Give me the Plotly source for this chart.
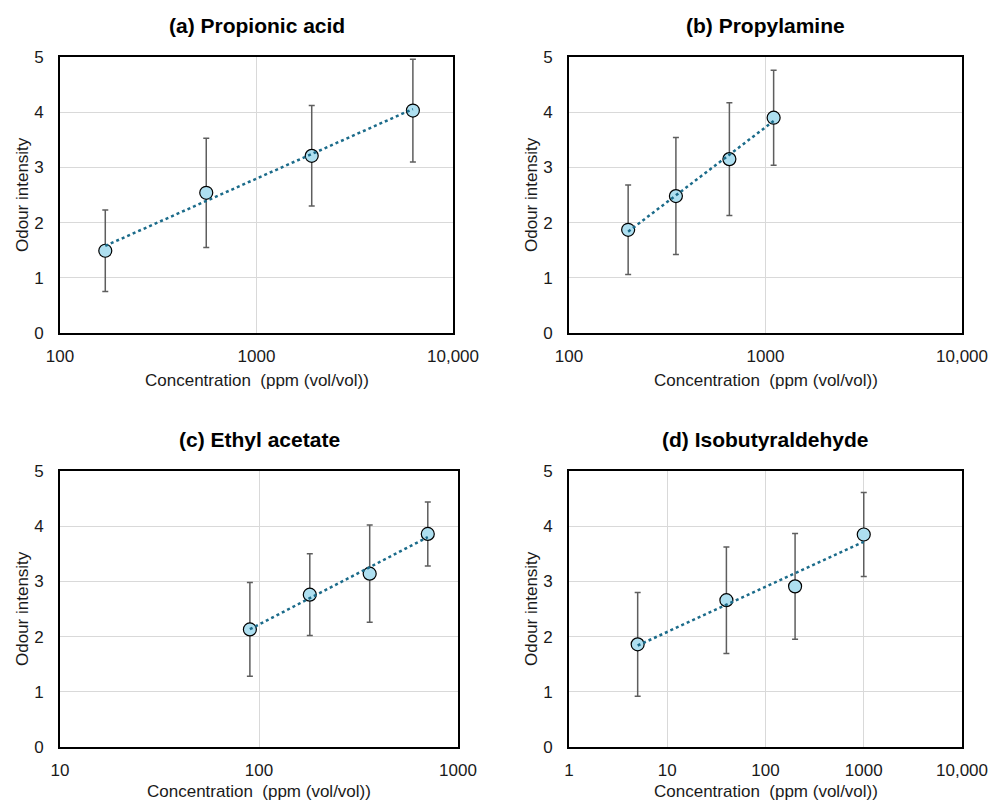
import numpy as np
import plotly.graph_objects as go

# ---- data ----
titles = ["(a) Propionic acid", "(b) Propylamine", "(c) Ethyl acetate", "(d) Isobutyraldehyde"]

conc_a = [170, 555, 1910, 6250]
int_a = [1.49, 2.54, 3.21, 4.03]
err_a = [0.74, 0.99, 0.91, 0.93]

conc_b = [200, 350, 655, 1100]
int_b = [1.87, 2.48, 3.15, 3.90]
err_b = [0.81, 1.06, 1.02, 0.86]

conc_c = [90, 180, 360, 705]
int_c = [2.13, 2.76, 3.14, 3.86]
err_c = [0.85, 0.74, 0.88, 0.58]

conc_d = [5, 40, 200, 1000]
int_d = [1.86, 2.66, 2.91, 3.85]
err_d = [0.94, 0.965, 0.96, 0.76]

xtick_vals_a = [100, 1000, 10000]
xtick_text_a = ["100", "1000", "10,000"]
xtick_vals_b = [100, 1000, 10000]
xtick_text_b = ["100", "1000", "10,000"]
xtick_vals_c = [10, 100, 1000]
xtick_text_c = ["10", "100", "1000"]
xtick_vals_d = [1, 10, 100, 1000, 10000]
xtick_text_d = ["1", "10", "100", "1000", "10,000"]

ytick_vals = [0, 1, 2, 3, 4, 5]

x_label = "Concentration  (ppm (vol/vol))"
y_label = "Odour intensity"

# ---- layout geometry ----
W, H = 988, 802
FONT = "Liberation Sans, Arial, sans-serif"
MARKER_FILL = "#AEDFF0"
TREND = "#1B6B8A"
ERR = "#5E5E5E"
GRID = "#D9D9D9"
TXT = "#1a1a1a"

panels = [
    dict(x=conc_a, y=int_a, e=err_a, tv=xtick_vals_a, tt=xtick_text_a, px=(60, 453), py=(57, 333)),
    dict(x=conc_b, y=int_b, e=err_b, tv=xtick_vals_b, tt=xtick_text_b, px=(569, 962), py=(57, 333)),
    dict(x=conc_c, y=int_c, e=err_c, tv=xtick_vals_c, tt=xtick_text_c, px=(60, 458), py=(471, 747)),
    dict(x=conc_d, y=int_d, e=err_d, tv=xtick_vals_d, tt=xtick_text_d, px=(569, 962), py=(471, 747)),
]

fig = go.Figure()
annotations = []

for i, p in enumerate(panels):
    n = "" if i == 0 else str(i + 1)
    xa, ya = "x" + n, "y" + n
    x = np.array(p["x"], dtype=float)
    y = np.array(p["y"], dtype=float)

    # error bars + markers
    fig.add_trace(go.Scatter(
        x=x, y=y, xaxis=xa, yaxis=ya, mode="markers",
        marker=dict(size=13, color=MARKER_FILL, line=dict(color="black", width=1.2)),
        error_y=dict(type="data", array=p["e"], visible=True, color=ERR, thickness=1.5, width=3),
        showlegend=False, hoverinfo="x+y",
    ))

    # logarithmic trendline (least squares on log10 concentration)
    slope, icpt = np.polyfit(np.log10(x), y, 1)
    tx = np.array([x.min(), x.max()])
    fig.add_trace(go.Scatter(
        x=tx, y=slope * np.log10(tx) + icpt, xaxis=xa, yaxis=ya, mode="lines",
        line=dict(color=TREND, width=2.5, dash="dot"),
        showlegend=False, hoverinfo="skip",
    ))

    x0, x1 = p["px"]
    y0, y1 = p["py"]
    xdom = [x0 / W, x1 / W]
    ydom = [1 - y1 / H, 1 - y0 / H]
    lo, hi = np.log10(p["tv"][0]), np.log10(p["tv"][-1])

    fig.update_layout(**{
        ("xaxis" + n): dict(
            type="log", range=[lo, hi], domain=xdom, anchor=ya,
            tickvals=p["tv"], ticktext=p["tt"],
            showgrid=True, gridcolor=GRID, gridwidth=1,
            showline=True, linecolor="black", linewidth=1.8, mirror=True,
            ticks="", ticklabelstandoff=7, automargin=False,
            tickfont=dict(family=FONT, size=17, color=TXT),
            zeroline=False,
        ),
        ("yaxis" + n): dict(
            range=[0, 5], domain=ydom, anchor=xa,
            tickvals=ytick_vals,
            showgrid=True, gridcolor=GRID, gridwidth=1,
            showline=True, linecolor="black", linewidth=1.8, mirror=True,
            ticks="", ticklabelstandoff=11, automargin=False,
            tickfont=dict(family=FONT, size=17, color=TXT),
            zeroline=False,
        ),
    })

    cx = (x0 + x1) / 2
    cy = (y0 + y1) / 2
    # panel title
    annotations.append(dict(
        text="<b>" + titles[i] + "</b>", x=cx / W, y=1 - (y0 - 32) / H,
        xref="paper", yref="paper", showarrow=False, xanchor="center", yanchor="middle",
        font=dict(family=FONT, size=21, color="black"),
    ))
    # x axis title
    annotations.append(dict(
        text=x_label, x=cx / W, y=1 - min(y1 + 47, H - 11) / H,
        xref="paper", yref="paper", showarrow=False, xanchor="center", yanchor="middle",
        font=dict(family=FONT, size=17, color=TXT),
    ))
    # y axis title
    annotations.append(dict(
        text=y_label, x=(x0 - 38) / W, y=1 - cy / H, textangle=-90,
        xref="paper", yref="paper", showarrow=False, xanchor="center", yanchor="middle",
        font=dict(family=FONT, size=17, color=TXT),
    ))

fig.update_layout(
    width=W, height=H,
    margin=dict(l=0, r=0, t=0, b=0, autoexpand=False),
    paper_bgcolor="white", plot_bgcolor="white",
    annotations=annotations,
    font=dict(family=FONT),
    hovermode=False,
)

fig.write_html(
    "out.html",
    config={"displayModeBar": False},
    post_script="document.body.style.margin='0';document.body.style.overflow='hidden';",
)
